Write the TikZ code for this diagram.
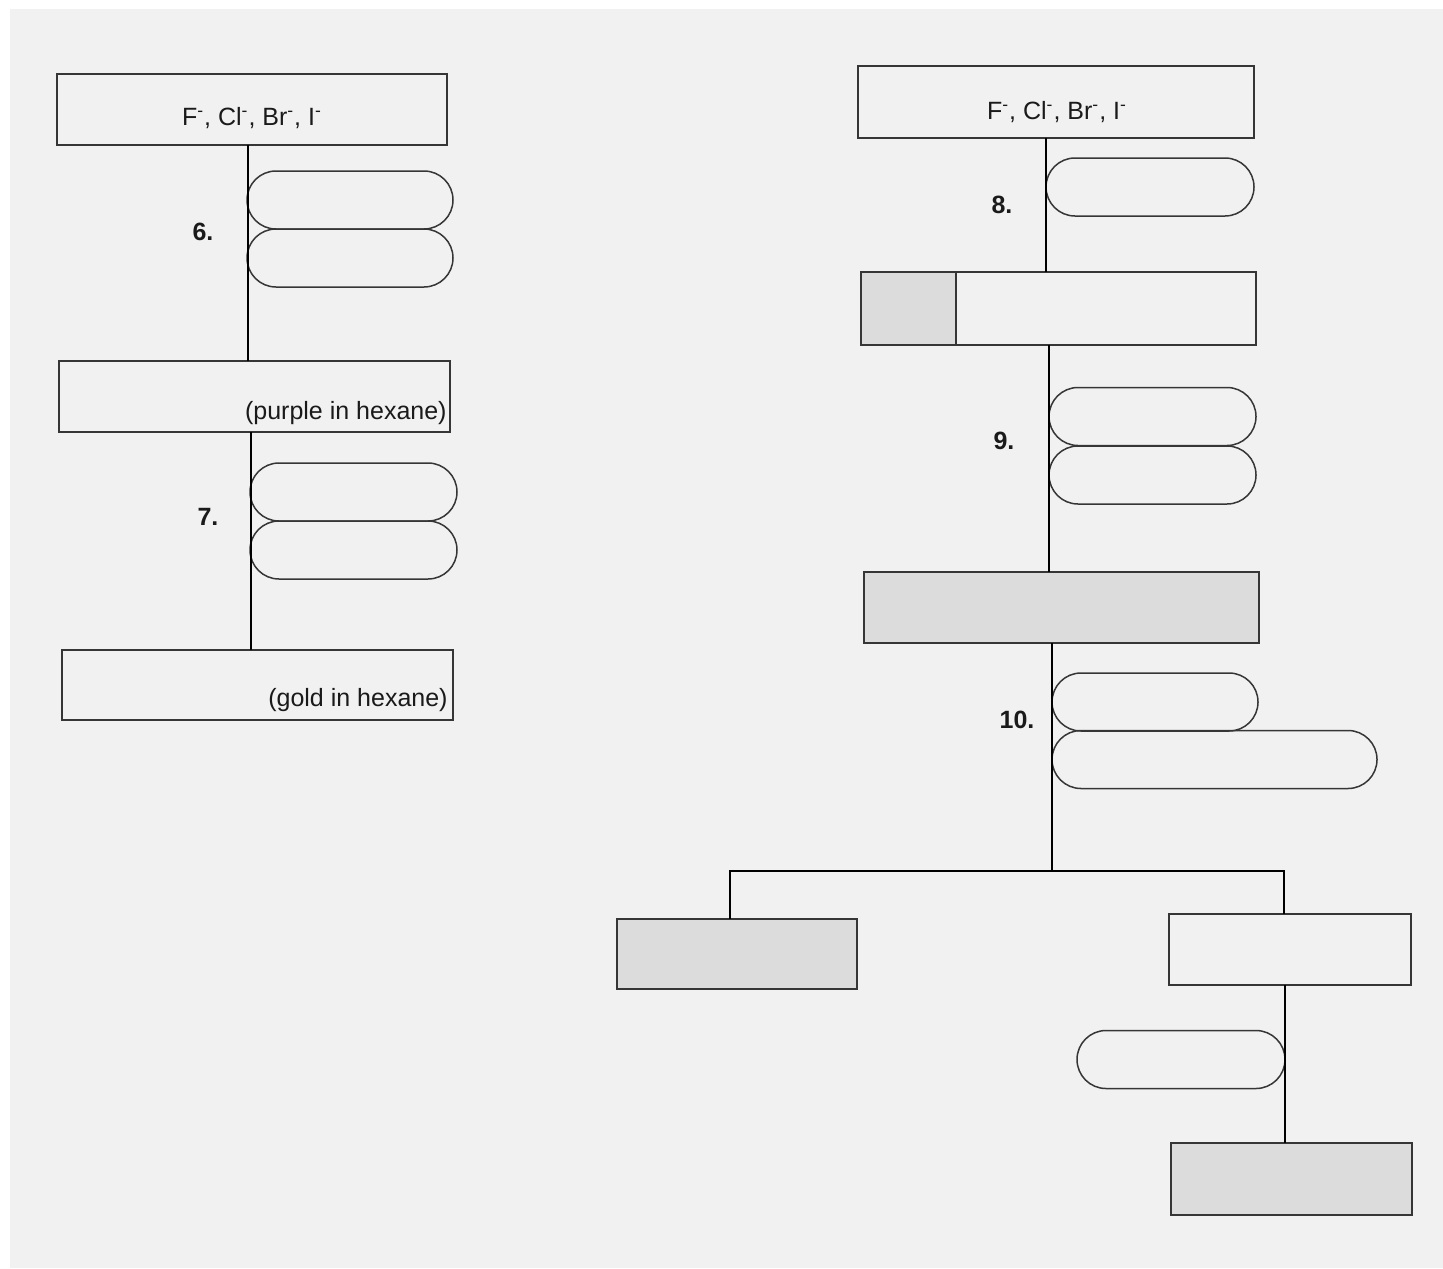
\documentclass[tikz,border=0pt]{standalone}
\usepackage{fontspec}
\setmainfont{Liberation Sans}
\usetikzlibrary{shapes.misc}
\definecolor{paper}{HTML}{F1F1F1}
\definecolor{shadegray}{HTML}{DCDCDC}
\definecolor{ink}{HTML}{1A1A1A}
\definecolor{edgegray}{HTML}{363636}
\begin{document}
\begin{tikzpicture}[x=0.5pt,y=-0.5pt,
  box/.style={draw=edgegray,line width=0.75pt,rectangle,inner sep=0pt,outer sep=0pt},
  shadedbox/.style={box,fill=shadegray},
  pill/.style={draw=edgegray,line width=0.75pt,rounded rectangle,inner sep=0pt,outer sep=0pt,minimum height=29pt},
  conn/.style={draw=black,line width=1.3pt},
  steplab/.style={font=\fontsize{12.5}{14}\selectfont\bfseries,text=ink},
  txt/.style={font=\fontsize{12.5}{15}\selectfont,text=ink,inner sep=0pt}]
% page
\useasboundingbox (0,0) rectangle (1443,1268);
\fill[white] (0,0) rectangle (1443,1268);
\fill[paper] (10,9) rectangle (1443,1268);

% ---------- left column ----------
\node[box,minimum width=195pt,minimum height=35.5pt] (A) at (252,109.5) {};
\node[txt] (At) at (252,118) {F\textsuperscript{-}, Cl\textsuperscript{-}, Br\textsuperscript{-}, I\textsuperscript{-}};
\node[pill,minimum width=103pt] (p6a) at (350,200) {};
\node[pill,minimum width=103pt] (p6b) at (350,258) {};
\node[steplab] (s6) at (203,232) {6.};
\node[box,minimum width=195.5pt,minimum height=35.5pt] (B) at (254.5,396.5) {};
\node[txt,anchor=east] (Bt) at (447,413) {(purple in hexane)};
\node[pill,minimum width=103.5pt] (p7a) at (353.5,492) {};
\node[pill,minimum width=103.5pt] (p7b) at (353.5,550) {};
\node[steplab] (s7) at (208,517) {7.};
\node[box,minimum width=195.5pt,minimum height=35pt] (C) at (257.5,685) {};
\node[txt,anchor=east] (Ct) at (448,700) {(gold in hexane)};

\coordinate (l1) at (248,0);
\coordinate (l2) at (251,0);
\draw[conn] (A.south -| l1) -- (B.north -| l1);
\draw[conn] (B.south -| l2) -- (C.north -| l2);

% ---------- right column ----------
\node[box,minimum width=198pt,minimum height=36pt] (D) at (1056,102) {};
\node[txt] (Dt) at (1057,112) {F\textsuperscript{-}, Cl\textsuperscript{-}, Br\textsuperscript{-}, I\textsuperscript{-}};
\node[pill,minimum width=104pt] (p8) at (1150,187) {};
\node[steplab] (s8) at (1002,205) {8.};
\node[shadedbox,minimum width=47.5pt,minimum height=36.5pt] (E1) at (908.5,308.5) {};
\node[box,minimum width=150pt,minimum height=36.5pt] (E2) at (1106,308.5) {};
\node[pill,minimum width=103.5pt] (p9a) at (1152.5,416.5) {};
\node[pill,minimum width=103.5pt] (p9b) at (1152.5,475) {};
\node[steplab] (s9) at (1004,441) {9.};
\node[shadedbox,minimum width=197.5pt,minimum height=35.5pt] (F) at (1061.5,607.5) {};
\node[pill,minimum width=103pt] (p10a) at (1155,702) {};
\node[pill,minimum width=162.5pt] (p10b) at (1214.5,759.5) {};
\node[steplab] (s10) at (1017,720) {10.};

\coordinate (r1) at (1046,0);
\coordinate (r2) at (1049,0);
\coordinate (r3) at (1052,0);
\draw[conn] (D.south -| r1) -- (E2.north -| r1);
\draw[conn] (E2.south -| r2) -- (F.north -| r2);

% ---------- branch ----------
\node[shadedbox,minimum width=120pt,minimum height=35pt] (G) at (737,954) {};
\node[box,minimum width=121pt,minimum height=35.5pt] (H) at (1290,949.5) {};
\node[pill,minimum width=104pt] (p11) at (1181,1059.5) {};
\node[shadedbox,minimum width=120.5pt,minimum height=36pt] (I) at (1291.5,1179) {};

\coordinate (bj) at (1052,871);
\coordinate (bl) at (730,871);
\coordinate (br) at (1284,871);
\draw[conn] (F.south -| r3) -- (bj);
\draw[conn] (G.north -| bl) -- (bl) -- (br) -- (H.north -| br);
\coordinate (r4) at (1285,0);
\draw[conn] (H.south -| r4) -- (I.north -| r4);
\end{tikzpicture}
\end{document}
